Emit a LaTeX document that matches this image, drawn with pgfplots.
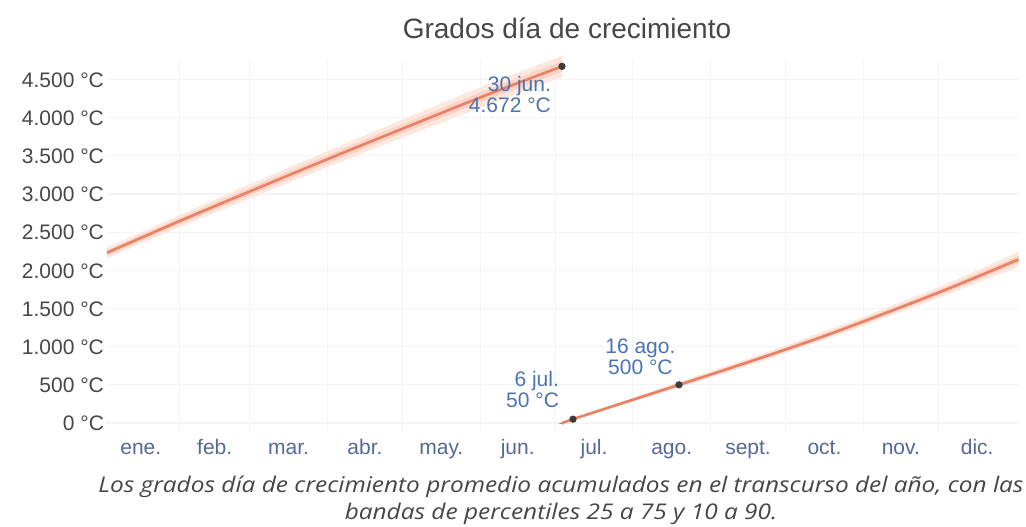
\documentclass[border=0pt]{standalone}
\usepackage{pgfplots}
\pgfplotsset{compat=1.18}
\usepackage{fontspec}
\setmainfont{Liberation Sans}
\newfontfamily\capfont[FakeStretch=1.13]{Open Sans}

\definecolor{gddline}{RGB}{234,128,100}
\definecolor{band90}{RGB}{253,232,224}
\definecolor{band75}{RGB}{250,212,198}
\definecolor{ticky}{RGB}{70,70,70}
\definecolor{tickx}{RGB}{85,105,150}
\definecolor{annot}{RGB}{75,115,175}
\definecolor{dotc}{RGB}{60,60,60}
\definecolor{gridc}{RGB}{244,244,246}

\begin{document}
\begin{tikzpicture}
\begin{axis}[
    at={(53.5pt,47.7pt)}, anchor=south west,
    scale only axis,
    width=455.75pt, height=185.1pt,
    xmin=2, xmax=366,
    ymin=-100, ymax=4750,
    axis line style={draw=none},
    major tick length=0pt, minor tick length=0pt,
    xtick={15.5,45,74.5,105,135.5,166,196.5,227.5,258,288.5,319,349.5},
    xticklabels={ene.,feb.,mar.,abr.,may.,jun.,jul.,ago.,sept.,oct.,nov.,dic.},
    minor xtick={31,59,90,120,151,181,212,243,273,304,334},
    xminorgrids,
    ytick={0,500,1000,1500,2000,2500,3000,3500,4000,4500},
    yticklabels={0 °C,500 °C,1.000 °C,1.500 °C,2.000 °C,2.500 °C,3.000 °C,3.500 °C,4.000 °C,4.500 °C},
    ymajorgrids,
    grid style={draw=gridc, line width=0.6pt},
    minor grid style={draw=gridc, line width=0.6pt},
    typeset ticklabels with strut,
    xticklabel style={font=\fontsize{10.5}{12}\selectfont, text=tickx},
    yticklabel style={font=\fontsize{10.5}{12}\selectfont, text=ticky, xshift=2pt, yshift=-1.5pt},
    clip=false,
]
  % 10-90 band, Jan-Jun (upper then lower)
  \addplot[fill=band90, draw=none] coordinates {
    (2,2300) (31.4,2730) (59.9,3140) (91.3,3580) (121.8,4000) (153.3,4430) (183.7,4812)
    (183.7,4532) (153.3,4160) (121.8,3760) (91.3,3370) (59.9,2950) (31.4,2570) (2,2160)} -- cycle;
  % 25-75 band, Jan-Jun
  \addplot[fill=band75, draw=none] coordinates {
    (2,2265) (31.4,2693) (59.9,3095) (91.3,3528) (121.8,3939) (153.3,4358) (183.7,4742)
    (183.7,4602) (153.3,4228) (121.8,3819) (91.3,3418) (59.9,2995) (31.4,2609) (2,2195)} -- cycle;
  % 10-90 band, Jul-Dec
  \addplot[fill=band90, draw=none] coordinates {
    (184.5,0) (188.1,58) (230.4,540) (265.6,930) (300,1339) (335,1790) (366,2242)
    (366,2042) (335,1650) (300,1219) (265.6,830) (230.4,460) (188.1,42) (184.5,0)} -- cycle;
  % 25-75 band, Jul-Dec
  \addplot[fill=band75, draw=none] coordinates {
    (184.5,0) (188.1,54) (230.4,520) (265.6,905) (300,1309) (335,1755) (366,2192)
    (366,2092) (335,1685) (300,1249) (265.6,855) (230.4,480) (188.1,46) (184.5,0)} -- cycle;
  % mean accumulated GDD
  \addplot[gddline, line width=1.3pt, smooth] coordinates {
    (2,2230) (31.4,2651) (59.9,3045) (91.3,3473) (121.8,3879) (153.3,4293) (183.7,4672)};
  \addplot[gddline, line width=1.3pt, smooth] coordinates {
    (184.5,0) (188.1,50) (230.4,500) (248,688) (265.6,880) (283,1075) (300,1279) (335,1720) (366,2142)};
  % highlighted days
  \addplot[only marks, mark=*, mark size=1.6pt, color=dotc] coordinates {(183.7,4672) (188.1,50) (230.4,500)};
  \node[align=right, anchor=east, text=annot, font=\fontsize{10.5}{10.5}\selectfont] at (axis cs:182.1,4304) {30 jun.\\4.672 °C};
  \node[align=right, anchor=east, text=annot, font=\fontsize{10.5}{10.5}\selectfont] at (axis cs:185.3,433) {6 jul.\\50 °C};
  \node[align=center, text=annot, font=\fontsize{10.5}{10.5}\selectfont] at (axis cs:215,866) {16 ago.\\500 °C};
\end{axis}
\node[text=ticky, font=\fontsize{14}{16}\selectfont] at (283.5pt,249pt) {Grados día de crecimiento};
\node[text=ticky, font=\capfont\itshape\fontsize{10.8}{12}\selectfont] at (280.5pt,19.8pt) {Los grados día de crecimiento promedio acumulados en el transcurso del año, con las};
\node[text=ticky, font=\capfont\itshape\fontsize{10.8}{12}\selectfont] at (280.5pt,6.3pt) {bandas de percentiles 25 a 75 y 10 a 90.};
\pgfresetboundingbox
\useasboundingbox (0,0) rectangle (513pt,263pt);
\end{tikzpicture}
\end{document}
